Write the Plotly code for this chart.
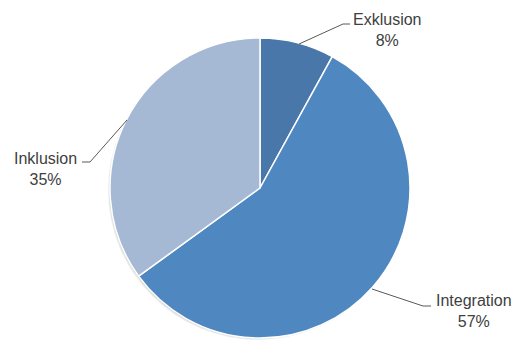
import plotly.graph_objects as go

W, H = 517, 340

labels = ["Exklusion", "Integration", "Inklusion"]
values = [8, 57, 35]
colors = ["#4a77aa", "#4f87c1", "#a5b9d5"]

# label text boxes (pixel centres) and leader line paths (pixels)
label_pos = {"Exklusion": (387, 30), "Integration": (474, 311), "Inklusion": (45, 169)}
leaders = {
    "Exklusion": [(299, 44), (343, 24), (350, 24)],
    "Integration": [(372, 289), (423, 306), (431, 306)],
    "Inklusion": [(127, 120), (90, 162), (82, 162)],
}

def px_x(x):
    return x / W

def px_y(y):
    return min(1, max(0, 1 - y / H))

cx, cy, r = 260, 188, 150

fig = go.Figure()

# soft shadow behind the pie
for off, alpha in [(2, 0.07), (1, 0.1)]:
    fig.add_trace(go.Pie(
        values=[1], labels=["shadow"], sort=False,
        marker=dict(colors=[f"rgba(0,0,0,{alpha})"], line=dict(width=0)),
        textinfo="none", hoverinfo="skip", showlegend=False,
        domain=dict(x=[px_x(cx - r - off), px_x(cx + r - off)],
                    y=[px_y(cy + r + off), px_y(cy - r + off)]),
    ))

fig.add_trace(go.Pie(
    labels=labels, values=values, sort=False, direction="clockwise", rotation=0,
    marker=dict(colors=colors, line=dict(color="white", width=1.5)),
    textinfo="none", showlegend=False,
    domain=dict(x=[px_x(cx - r), px_x(cx + r)], y=[px_y(cy + r), px_y(cy - r)]),
))

total = sum(values)
for lab, val in zip(labels, values):
    x, y = label_pos[lab]
    fig.add_annotation(
        x=px_x(x), y=px_y(y), xref="paper", yref="paper",
        xanchor="center", yanchor="middle",
        text=f"{lab}<br>{round(100 * val / total)}%", showarrow=False,
        font=dict(family="Liberation Sans", size=16, color="#404040"),
        align="center",
    )
    pts = leaders[lab]
    path = "M " + " L ".join(f"{px_x(a)} {px_y(b)}" for a, b in pts)
    fig.add_shape(type="path", path=path, xref="paper", yref="paper",
                  line=dict(color="#595959", width=1))

fig.update_layout(
    width=W, height=H,
    margin=dict(l=0, r=0, t=0, b=0),
    paper_bgcolor="white", plot_bgcolor="white",
)

fig.write_html("out.html", config={"displayModeBar": False},
               post_script="document.body.style.margin='0px';")
